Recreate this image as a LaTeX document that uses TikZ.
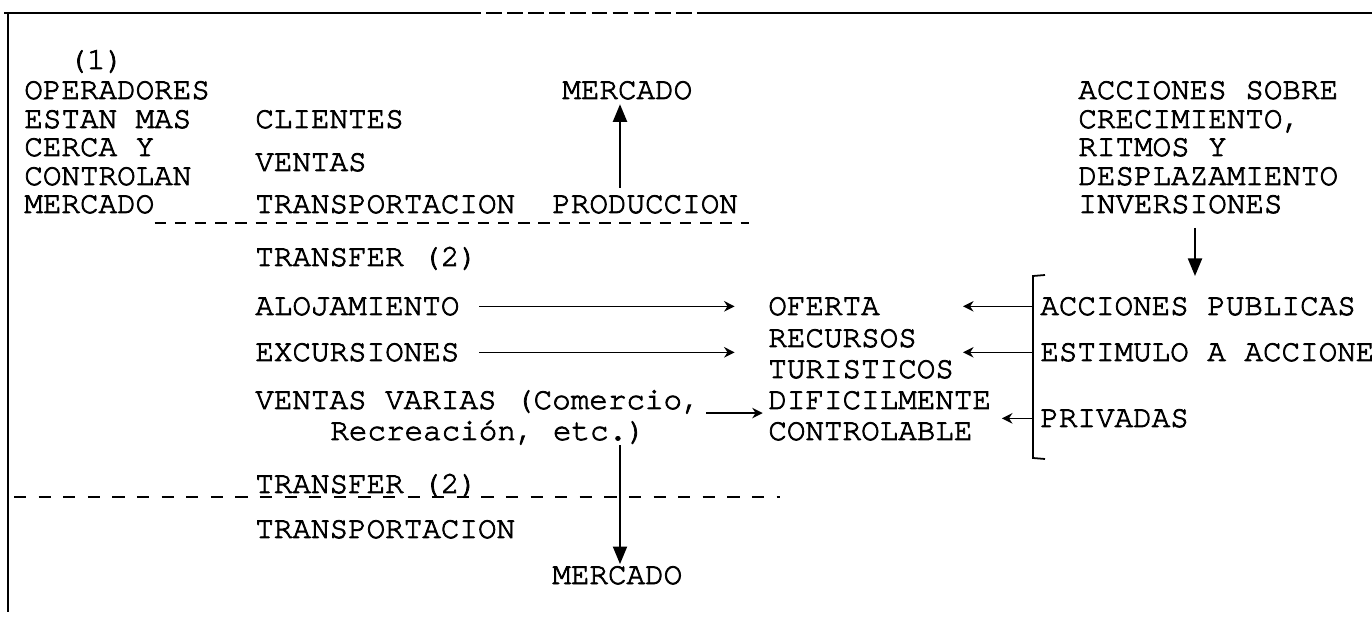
\documentclass[tikz,border=0pt]{standalone}
\usepackage{fontspec}
\newfontfamily\twfont{texgyrecursor-regular.otf}[FakeBold=2.5]
\usetikzlibrary{arrows.meta}
\tikzstyle{txt}=[anchor=base west,inner sep=0pt,font=\twfont\fontsize{17.6}{21}\selectfont]
\tikzstyle{border}=[draw,line width=1.2pt]
\tikzstyle{underdash}=[draw,line width=1.1pt,dash pattern=on 6.5pt off 5pt]
\tikzstyle{bigarrow}=[draw,line width=1.1pt,-{Triangle[length=10pt,width=8pt]}]
\tikzstyle{smallarrow}=[draw,line width=0.9pt,-{Stealth[length=6pt,width=6pt]}]
\tikzstyle{bracketline}=[draw,line width=1pt]

\begin{document}
\begin{tikzpicture}[x=0.02cm,y=-0.02cm]
\useasboundingbox (0,0) rectangle (1372,617);

% frame
    \draw[border] (4,13) -- (465,13);
    \draw[border,dash pattern=on 9pt off 3pt] (465,13) -- (700,13);
    \draw[border] (700,13) -- (1372,13);
    \draw[border] (8,13) -- (8,612);

% left column
  \foreach \pos/\name/\label in {{(68,69)/one/(1)}, {(24,99)/oper/OPERADORES}, {(24,128)/estan/ESTAN MAS}, {(24,156)/cerca/CERCA Y}, {(24,185)/contr/CONTROLAN}, {(24,213)/mercL/MERCADO}}
        \node[txt] (\name) at \pos {\label};

% middle column
  \foreach \pos/\name/\label in {{(562,99)/mercT/MERCADO}, {(255,128)/clientes/CLIENTES}, {(255,171)/ventas/VENTAS}, {(255,213)/transp/TRANSPORTACION}, {(552,213)/prod/PRODUCCION}, {(255,266)/transfA/TRANSFER (2)}, {(255,315)/aloj/ALOJAMIENTO}, {(255,361)/excur/EXCURSIONES}, {(255,409)/varias/VENTAS VARIAS (Comercio,}, {(330,440)/recre/Recreación, etc.)}, {(255,493)/transfB/TRANSFER (2)}, {(255,538)/transpB/TRANSPORTACION}, {(552,584)/mercB/MERCADO}}
        \node[txt] (\name) at \pos {\label};

% oferta column
  \foreach \pos/\name/\label in {{(768,315)/ofr/OFERTA}, {(768,347)/recur/RECURSOS}, {(768,378)/turis/TURISTICOS}, {(768,409)/dific/DIFICILMENTE}, {(768,440)/contrb/CONTROLABLE}}
        \node[txt] (\name) at \pos {\label};

% right column
  \foreach \pos/\name/\label in {{(1078,99)/acc/ACCIONES SOBRE}, {(1078,128)/crec/{CRECIMIENTO,}}, {(1078,156)/ritm/RITMOS Y}, {(1078,185)/despl/DESPLAZAMIENTO}, {(1078,213)/inv/INVERSIONES}, {(1040,315)/pub/ACCIONES PUBLICAS}, {(1040,361)/estim/ESTIMULO A ACCIONES}, {(1040,427)/priv/PRIVADAS}}
        \node[txt] (\name) at \pos {\label};

% helper coordinates
    \coordinate (upx) at (620,0);
    \coordinate (invx) at (1195,0);
    \coordinate (tipx) at (963,0);
    \coordinate (brtop) at (1033,276);
    \coordinate (brbot) at (1033,458);
    \coordinate (lb) at (14,0);
    \coordinate (rb) at (780,0);

% underlined rows
    \draw[underdash] ([yshift=-5.7pt]mercL.base east) -- ([xshift=6pt,yshift=-5.7pt]prod.base east);
    \draw[underdash,dash pattern=on 7pt off 7pt] ([yshift=-2.3pt]lb |- transfB.base) -- ([yshift=-2.3pt]rb |- transfB.base);

% vertical arrows
    \draw[bigarrow] ([yshift=4pt]prod.north -| upx) -- ([yshift=-3pt]mercT.base -| upx);
    \draw[bigarrow,shorten <=8pt] (inv.south -| invx) -- (invx |- brtop);
    \draw[bigarrow] ([yshift=-3pt]recre.base -| upx) -- ([yshift=1pt]mercB.north -| upx);

% bracket and its arrows
    \draw[bracketline] (brtop) ++(12,-1) -- (brtop) -- (brbot) -- ++(12,1);
    \draw[smallarrow] (brtop |- pub.west) -- (tipx |- pub.west);
    \draw[smallarrow] (brtop |- estim.west) -- (tipx |- estim.west);
    \draw[smallarrow] (brtop |- priv.west) -- ([xshift=6pt]dific.east |- priv.west);

% arrows into oferta
    \draw[smallarrow] ([xshift=11pt]aloj.east) -- ([xshift=-19pt]ofr.west |- aloj.east);
    \draw[smallarrow] ([xshift=11pt]excur.east) -- ([xshift=-19pt]ofr.west |- excur.east);
    \draw[smallarrow] ([xshift=3pt,yshift=-2.3pt]varias.base east) -- ([xshift=-3pt,yshift=-2.3pt]dific.base west);

\end{tikzpicture}
\end{document}
